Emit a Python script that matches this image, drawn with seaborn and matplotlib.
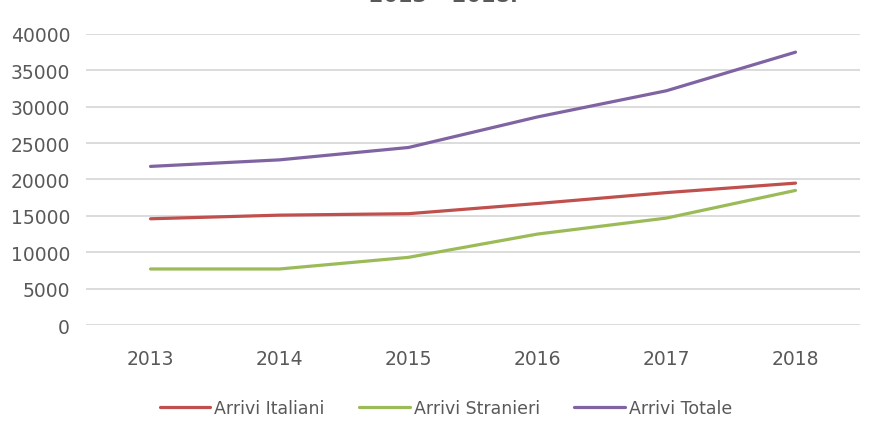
import matplotlib
matplotlib.use("Agg")
import matplotlib.pyplot as plt
import seaborn as sns
import pandas as pd

years = ["2013", "2014", "2015", "2016", "2017", "2018"]
italiani = [14600, 15100, 15300, 16700, 18200, 19500]
stranieri = [7700, 7700, 9300, 12500, 14700, 18500]
totale = [21800, 22700, 24400, 28600, 32200, 37500]
series_names = ["Arrivi Italiani", "Arrivi Stranieri", "Arrivi Totale"]
colors = ["#c0504d", "#9bbb59", "#8064a2"]
title_text = "2013 \u2013 2018."

rows = []
for name, vals in zip(series_names, [italiani, stranieri, totale]):
    for i, (y, v) in enumerate(zip(years, vals)):
        rows.append({"pos": i, "Anno": y, "Serie": name, "Valore": v})
df = pd.DataFrame(rows)

sns.set_theme(style="white")
plt.rcParams['font.family'] = ['DejaVu Sans']

fig = plt.figure(figsize=(8.78, 4.39), dpi=100)
ax = fig.add_axes([0.098, 0.2574, 0.8815, 0.6629])

sns.lineplot(data=df, x="pos", y="Valore", hue="Serie", palette=colors,
             hue_order=series_names, linewidth=2.3, ax=ax, legend=True)

ax.set_xlim(-0.5, 5.5)
ax.set_ylim(0, 40000)
ax.set_yticks(range(0, 40001, 5000))
ax.set_xticks(range(len(years)))
ax.set_xticklabels(years)
ax.grid(axis="y", color="#d9d9d9", linewidth=1.3)
ax.grid(axis="x", visible=False)
ax.set_axisbelow(True)
for s in ax.spines.values():
    s.set_visible(False)
ax.set_xlabel("")
ax.set_ylabel("")
ax.tick_params(axis="both", length=0, colors="#595959", labelsize=13.5)
ax.tick_params(axis="x", pad=17.5)
ax.tick_params(axis="y", pad=11.5)

ax.legend(loc="center", bbox_to_anchor=(0.465, -0.285), ncol=3, frameon=False,
          fontsize=12.5, handlelength=2.9, handletextpad=0.23, columnspacing=2.0,
          labelcolor="#595959")

# title sits mostly above the figure edge, as in the reference
fig.text(0.505, 1 + 14.0 / 439, title_text, ha="center", va="top",
         fontsize=15, fontweight="bold", color="#595959")

fig.savefig("out.png", dpi=100)
